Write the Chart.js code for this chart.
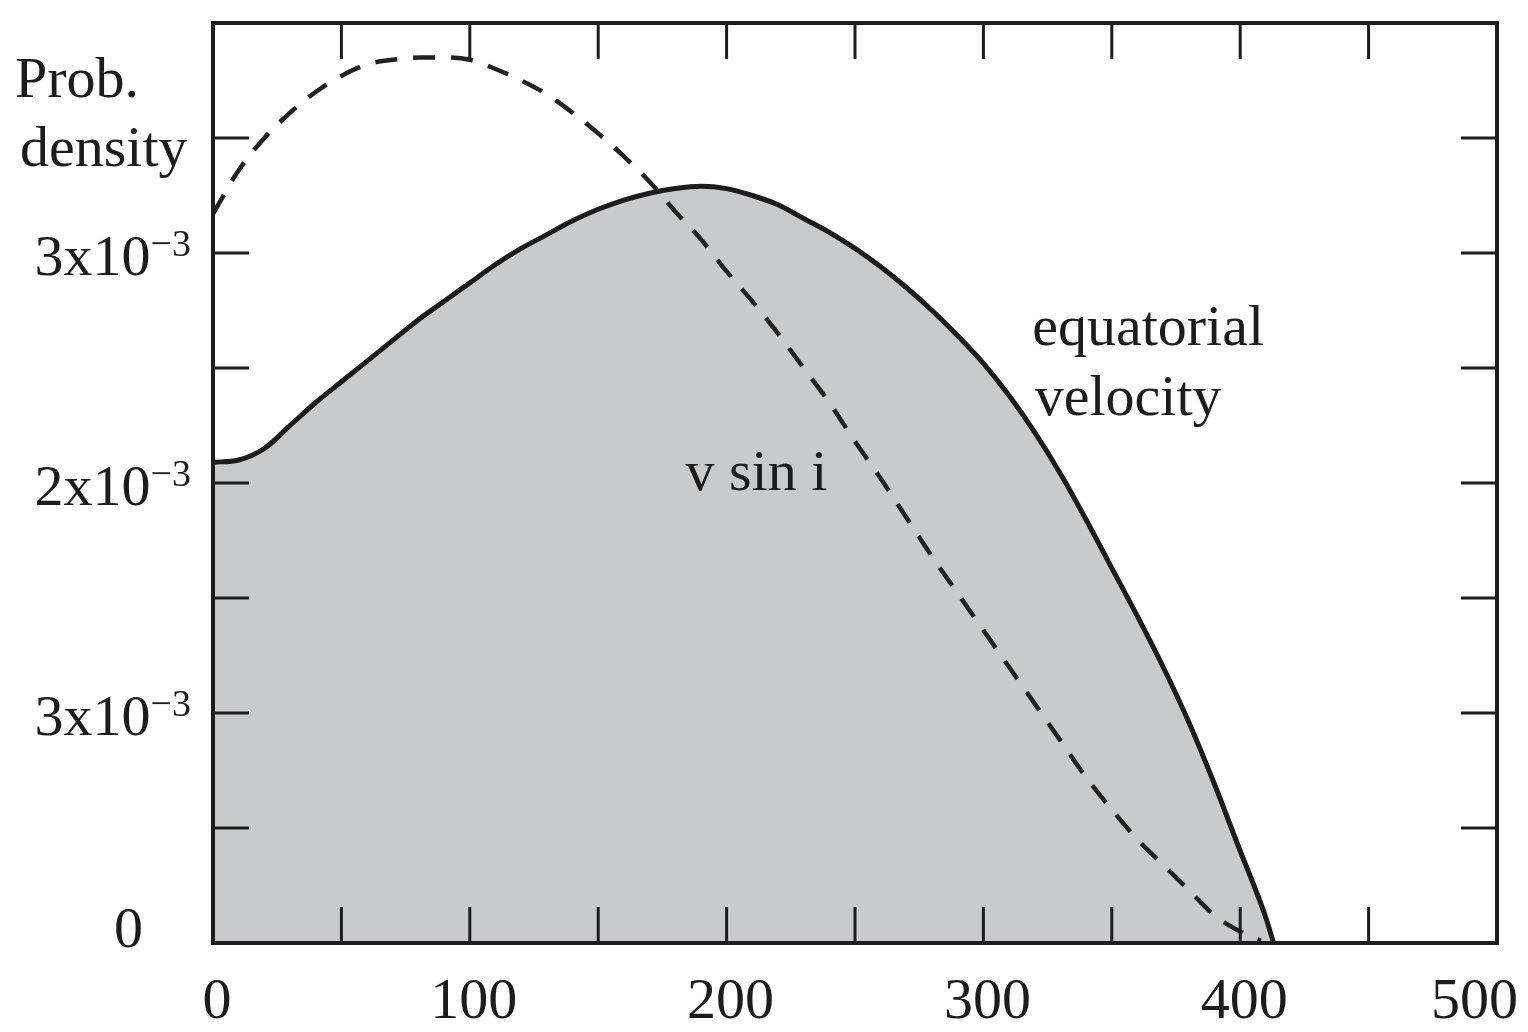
<!DOCTYPE html>
<html>
<head>
<meta charset="utf-8">
<script src="https://cdn.jsdelivr.net/npm/chart.js@4.4.0/dist/chart.umd.min.js"></script>
<style>
  html, body { margin: 0; padding: 0; background: #fff; }
  canvas { display: block; }
</style>
</head>
<body>
<canvas id="myChart" width="1528" height="1032"></canvas>
<script>
// Densities are in units of 10^-3
// equatorial velocity (solid line, shaded)
const eqVel = [0, 10, 20, 30, 40, 50, 60, 70, 80, 90, 100, 110, 120, 130, 140, 150, 160, 170, 180, 190,
               200, 210, 220, 230, 240, 250, 260, 270, 280, 290, 300, 310, 320, 330, 340, 350, 360, 370,
               380, 390, 400, 405, 410, 413];
const eqDens = [2.09, 2.10, 2.15, 2.25, 2.35, 2.44, 2.53, 2.62, 2.71, 2.79, 2.87, 2.95, 3.02, 3.08, 3.14,
                3.19, 3.23, 3.26, 3.28, 3.29, 3.28, 3.25, 3.21, 3.15, 3.09, 3.02, 2.94, 2.85, 2.75, 2.64,
                2.52, 2.38, 2.22, 2.04, 1.84, 1.63, 1.42, 1.20, 0.96, 0.69, 0.40, 0.26, 0.11, 0];

// v sin i (dashed line)
const vsiniVel = [0, 10, 20, 30, 40, 50, 60, 70, 80, 90, 100, 110, 120, 130, 140, 150, 160, 170, 180, 190,
                  200, 210, 220, 230, 240, 250, 260, 270, 280, 290, 300, 310, 320, 330, 340, 350, 360, 370,
                  380, 390, 400, 408];
const vsiniDens = [3.17, 3.36, 3.50, 3.61, 3.70, 3.77, 3.82, 3.84, 3.85, 3.85, 3.84, 3.80, 3.75, 3.69, 3.61,
                   3.52, 3.42, 3.31, 3.18, 3.06, 2.92, 2.79, 2.65, 2.50, 2.35, 2.18, 2.02, 1.85, 1.68, 1.52,
                   1.36, 1.20, 1.04, 0.88, 0.72, 0.58, 0.45, 0.34, 0.23, 0.12, 0.05, 0.01];

// tick labels
const xTickLabels = [0, 100, 200, 300, 400, 500];
const yTickValues = [0, 1, 2, 3];
const yTickText = ['0', '3x10', '2x10', '3x10'];
const yTickExp = ['', '\u22123', '\u22123', '\u22123'];

// curve captions
const captions = [
    { text: 'equatorial', x: 319, y: 2.60 },
    { text: 'velocity', x: 320, y: 2.295 },
    { text: 'v sin i', x: 184, y: 1.97 }
];

const serif = '"Liberation Serif", "Times New Roman", serif';
const ink = '#1c1c1c';

const framePlugin = {
    id: 'frame',
    afterDraw(chart) {
        const ctx = chart.ctx;
        const a = chart.chartArea;
        const xs = chart.scales.x;
        const ys = chart.scales.y;
        const tickLen = 36;
        ctx.save();
        ctx.strokeStyle = ink;

        // inward ticks on all four sides
        ctx.lineWidth = 3;
        ctx.beginPath();
        xs.ticks.forEach(t => {
            if (t.value <= xs.min || t.value >= xs.max) return;
            const px = xs.getPixelForValue(t.value);
            ctx.moveTo(px, a.bottom); ctx.lineTo(px, a.bottom - tickLen);
            ctx.moveTo(px, a.top); ctx.lineTo(px, a.top + tickLen);
        });
        ys.ticks.forEach(t => {
            if (t.value <= ys.min || t.value >= ys.max) return;
            const py = ys.getPixelForValue(t.value);
            ctx.moveTo(a.left, py); ctx.lineTo(a.left + tickLen, py);
            ctx.moveTo(a.right, py); ctx.lineTo(a.right - tickLen, py);
        });
        ctx.stroke();

        // frame
        ctx.lineWidth = 4;
        ctx.strokeRect(a.left, a.top, a.right - a.left, a.bottom - a.top);

        ctx.fillStyle = ink;
        ctx.textBaseline = 'alphabetic';

        // x labels
        ctx.font = '58px ' + serif;
        ctx.textAlign = 'left';
        xTickLabels.forEach(v => {
            const s = String(v);
            const w = ctx.measureText(s).width;
            let cx = xs.getPixelForValue(v) + 4;
            let left = cx - w / 2;
            if (left + w > chart.width - 10) left = chart.width - 10 - w;
            ctx.fillText(s, left, a.bottom + 75);
        });

        // y labels with superscript exponent
        yTickValues.forEach((v, i) => {
            const py = ys.getPixelForValue(v);
            if (!yTickExp[i]) {
                ctx.font = '58px ' + serif;
                const w = ctx.measureText(yTickText[i]).width;
                ctx.fillText(yTickText[i], a.left - 70 - w, py + 4);
                return;
            }
            ctx.font = '58px ' + serif;
            const w1 = ctx.measureText(yTickText[i]).width;
            ctx.font = '38px ' + serif;
            const w2 = ctx.measureText(yTickExp[i]).width;
            const x0 = a.left - 22 - w1 - w2;
            ctx.font = '58px ' + serif;
            ctx.fillText(yTickText[i], x0, py + 22);
            ctx.font = '38px ' + serif;
            ctx.fillText(yTickExp[i], x0 + w1, py + 3);
        });

        // axis title
        ctx.font = '58px ' + serif;
        ctx.fillText('Prob.', 15, a.top + 74);
        ctx.fillText('density', 20, a.top + 143);

        // captions
        captions.forEach(c => {
            ctx.fillText(c.text, xs.getPixelForValue(c.x), ys.getPixelForValue(c.y));
        });
        ctx.restore();
    }
};

new Chart(document.getElementById('myChart'), {
    type: 'line',
    data: {
        datasets: [
            {
                label: 'v sin i',
                data: vsiniVel.map((v, i) => ({ x: v, y: vsiniDens[i] })),
                borderColor: '#222',
                borderWidth: 4.5,
                borderDash: [22, 16],
                pointRadius: 0,
                fill: false,
                cubicInterpolationMode: 'monotone'
            },
            {
                label: 'equatorial velocity',
                data: eqVel.map((v, i) => ({ x: v, y: eqDens[i] })),
                borderColor: ink,
                borderWidth: 5,
                backgroundColor: '#c9cacb',
                pointRadius: 0,
                fill: 'origin',
                cubicInterpolationMode: 'monotone'
            }
        ]
    },
    options: {
        responsive: false,
        animation: false,
        layout: { padding: { left: 213, right: 31, top: 23, bottom: 89 } },
        scales: {
            x: { type: 'linear', display: false, min: 0, max: 500, ticks: { stepSize: 50 } },
            y: { type: 'linear', display: false, min: 0, max: 4, ticks: { stepSize: 0.5 } }
        },
        plugins: {
            legend: { display: false },
            tooltip: { enabled: false }
        }
    },
    plugins: [framePlugin]
});
</script>
</body>
</html>
